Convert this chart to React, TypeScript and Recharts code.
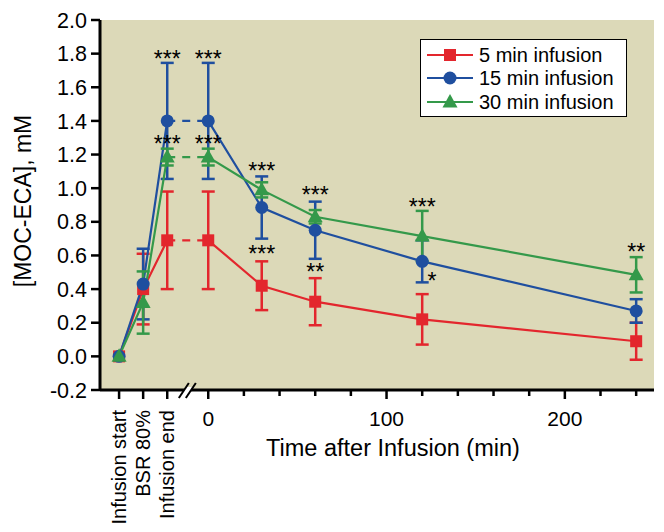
import { LineChart, Line, XAxis, YAxis, CartesianGrid, ErrorBar, ReferenceDot, Legend } from "recharts";

const FONT = '"Liberation Sans", Arial, sans-serif';

// phases before the axis break, placed on the same minute scale
const STAGES = ["Infusion start", "BSR 80%", "Infusion end"];
const STAGE_X = [-50, -36.5, -23];
const BREAK_X = -12;
const TIMES = [0, 30, 60, 120, 240];

const RED_STAGE = [0, 0.4, 0.69];
const RED_STAGE_SD = [0, 0.21, 0.29];
const RED_TIME = [0.69, 0.42, 0.325, 0.22, 0.09];
const RED_TIME_SD = [0.29, 0.145, 0.14, 0.15, 0.11];

const BLUE_STAGE = [0, 0.43, 1.4];
const BLUE_STAGE_SD = [0, 0.21, 0.345];
const BLUE_TIME = [1.4, 0.885, 0.75, 0.565, 0.27];
const BLUE_TIME_SD = [0.345, 0.185, 0.17, 0.125, 0.07];

const GREEN_STAGE = [0, 0.32, 1.185];
const GREEN_STAGE_SD = [0, 0.185, 0.05];
const GREEN_TIME = [1.185, 0.99, 0.83, 0.715, 0.485];
const GREEN_TIME_SD = [0.05, 0.045, 0.04, 0.15, 0.105];

const Y_TICKS = [-0.2, 0, 0.2, 0.4, 0.6, 0.8, 1.0, 1.2, 1.4, 1.6, 1.8, 2.0];
const X_TICKS = [...STAGE_X, BREAK_X, 0, 20, 40, 60, 80, 100, 120, 140, 160, 180, 200, 220, 240];

const ANNOTATIONS = [
  { x: STAGE_X[2], y: 1.8, text: "***" },
  { x: 0, y: 1.8, text: "***" },
  { x: STAGE_X[2], y: 1.29, text: "***" },
  { x: 0, y: 1.29, text: "***" },
  { x: 30, y: 1.13, text: "***" },
  { x: 30, y: 0.64, text: "***" },
  { x: 60, y: 0.99, text: "***" },
  { x: 60, y: 0.53, text: "**" },
  { x: 120, y: 0.92, text: "***" },
  { x: 125.5, y: 0.48, text: "*" },
  { x: 240, y: 0.65, text: "**" },
];

type Shape = "square" | "circle" | "triangle";

const SERIES = [
  { name: "5 min infusion", color: "#e3262d", shape: "square" as Shape, stage: RED_STAGE, stageSd: RED_STAGE_SD, time: RED_TIME, timeSd: RED_TIME_SD },
  { name: "15 min infusion", color: "#1f4f9f", shape: "circle" as Shape, stage: BLUE_STAGE, stageSd: BLUE_STAGE_SD, time: BLUE_TIME, timeSd: BLUE_TIME_SD },
  { name: "30 min infusion", color: "#34994a", shape: "triangle" as Shape, stage: GREEN_STAGE, stageSd: GREEN_STAGE_SD, time: GREEN_TIME, timeSd: GREEN_TIME_SD },
];

function Marker({ cx, cy, shape, color }: { cx: number; cy: number; shape: Shape; color: string }) {
  if (cx == null || cy == null) return null;
  if (shape === "square") return <rect x={cx - 6} y={cy - 6} width={12} height={12} fill={color} />;
  if (shape === "circle") return <circle cx={cx} cy={cy} r={6.5} fill={color} />;
  return <polygon points={`${cx},${cy - 8} ${cx - 7.5},${cy + 5.5} ${cx + 7.5},${cy + 5.5}`} fill={color} />;
}

function XTick(props: any) {
  const { x, y, payload } = props;
  const v = payload.value;
  if (v === BREAK_X) {
    const c1 = x - 3;
    const c2 = x + 4;
    return (
      <g>
        <polygon points={`${c1 - 2},${y + 3} ${c1 + 2},${y - 3} ${c2 + 2},${y - 3} ${c2 - 2},${y + 3}`} fill="#fff" />
        <line x1={c1 - 5} y1={y + 8} x2={c1 + 5} y2={y - 7} stroke="#000" strokeWidth={2} />
        <line x1={c2 - 5} y1={y + 8} x2={c2 + 5} y2={y - 7} stroke="#000" strokeWidth={2} />
      </g>
    );
  }
  const stage = STAGE_X.indexOf(v);
  const major = stage >= 0 || v % 100 === 0;
  return (
    <g>
      <line x1={x} x2={x} y1={y} y2={y + (major ? 9 : 6)} stroke="#000" strokeWidth={2.5} />
      {stage >= 0 && (
        <text transform={`translate(${x + 7},${y + 20}) rotate(-90)`} textAnchor="end" fontSize={20} fontFamily={FONT} fill="#000">
          {STAGES[stage]}
        </text>
      )}
      {stage < 0 && major && (
        <text x={x} y={y + 36} textAnchor="middle" fontSize={21} fontFamily={FONT} fill="#000">
          {v}
        </text>
      )}
    </g>
  );
}

function renderLegend() {
  return (
    <div
      style={{
        width: 207,
        height: 78,
        boxSizing: "border-box",
        border: "1.5px solid #000",
        background: "#fff",
        padding: "3px 0 0 6px",
        fontFamily: FONT,
        fontSize: 20,
        color: "#000",
      }}
    >
      {SERIES.map((s) => (
        <div key={s.name} style={{ display: "flex", alignItems: "center", height: 23.5 }}>
          <svg width={46} height={20}>
            <line x1={0} y1={10} x2={46} y2={10} stroke={s.color} strokeWidth={2} />
            <Marker cx={23} cy={10} shape={s.shape} color={s.color} />
          </svg>
          <span style={{ marginLeft: 6, lineHeight: 1, whiteSpace: "nowrap" }}>{s.name}</span>
        </div>
      ))}
    </div>
  );
}

export default function App() {
  return (
    <div style={{ position: "absolute", left: 0, top: 0 }}>
      <LineChart width={664} height={532} margin={{ top: 20, right: 10, bottom: 0, left: 0 }}>
        <CartesianGrid horizontal={false} vertical={false} fill="#dcd9b8" />
        <XAxis
          type="number"
          dataKey="x"
          domain={[-60.7, 250]}
          ticks={X_TICKS}
          interval={0}
          allowDataOverflow
          height={142}
          tickLine={false}
          tickSize={0}
          tickMargin={0}
          axisLine={{ stroke: "#000", strokeWidth: 3 }}
          tick={(p: any) => <XTick {...p} />}
          label={{
            content: (p: any) => {
              const vb = p.viewBox;
              return (
                <text x={vb.x + vb.width / 2 + 16} y={vb.y + 66} textAnchor="middle" fontSize={23.5} fontFamily={FONT} fill="#000">
                  Time after Infusion (min)
                </text>
              );
            },
          }}
        />
        <YAxis
          type="number"
          domain={[-0.2, 2.0]}
          ticks={Y_TICKS}
          interval={0}
          allowDataOverflow
          width={100}
          tickSize={9}
          tickMargin={4}
          tickFormatter={(v: number) => v.toFixed(1)}
          tick={{ fill: "#000", fontSize: 21.5, fontFamily: FONT }}
          tickLine={{ stroke: "#000", strokeWidth: 2.5 }}
          axisLine={{ stroke: "#000", strokeWidth: 3 }}
          label={{
            content: (p: any) => {
              const vb = p.viewBox;
              const cy = vb.y + vb.height / 2 - 4;
              return (
                <text transform={`translate(${vb.x + 31},${cy}) rotate(-90)`} textAnchor="middle" fontSize={23} fontFamily={FONT} fill="#000">
                  [MOC-ECA], mM
                </text>
              );
            },
          }}
        />
        {SERIES.flatMap((s) => {
          const stageData = STAGE_X.map((x, i) => ({ x, v: s.stage[i], sd: s.stageSd[i] }));
          const timeData = TIMES.map((x, i) => ({ x, v: s.time[i], sd: s.timeSd[i] }));
          const gapData = [stageData[stageData.length - 1], timeData[0]];
          const dot = (p: any) => <Marker key={`${s.name}-${p.index}`} cx={p.cx} cy={p.cy} shape={s.shape} color={s.color} />;
          return [
            <Line
              key={`${s.name}-gap`}
              data={gapData}
              dataKey="v"
              stroke={s.color}
              strokeWidth={2.2}
              strokeDasharray="8 7"
              dot={false}
              activeDot={false}
              legendType="none"
              isAnimationActive={false}
            />,
            <Line
              key={`${s.name}-stage`}
              data={stageData}
              dataKey="v"
              stroke={s.color}
              strokeWidth={2.2}
              dot={dot}
              activeDot={false}
              legendType="none"
              isAnimationActive={false}
            >
              <ErrorBar dataKey="sd" width={6.5} stroke={s.color} strokeWidth={2.5} isAnimationActive={false} />
            </Line>,
            <Line
              key={`${s.name}-time`}
              data={timeData}
              dataKey="v"
              stroke={s.color}
              strokeWidth={2.2}
              dot={dot}
              activeDot={false}
              legendType="none"
              isAnimationActive={false}
            >
              <ErrorBar dataKey="sd" width={6.5} stroke={s.color} strokeWidth={2.5} isAnimationActive={false} />
            </Line>,
          ];
        })}
        {ANNOTATIONS.map((a, i) => (
          <ReferenceDot
            key={i}
            x={a.x}
            y={a.y}
            shape={(p: any) => (
              <text x={p.cx} y={p.cy + 13} textAnchor="middle" fontSize={23} fontFamily={FONT} fill="#000">
                {a.text}
              </text>
            )}
          />
        ))}
        <Legend
          layout="horizontal"
          verticalAlign="middle"
          align="center"
          content={renderLegend}
          wrapperStyle={{ left: 420, top: 39, width: 207, height: 78 }}
        />
      </LineChart>
    </div>
  );
}
